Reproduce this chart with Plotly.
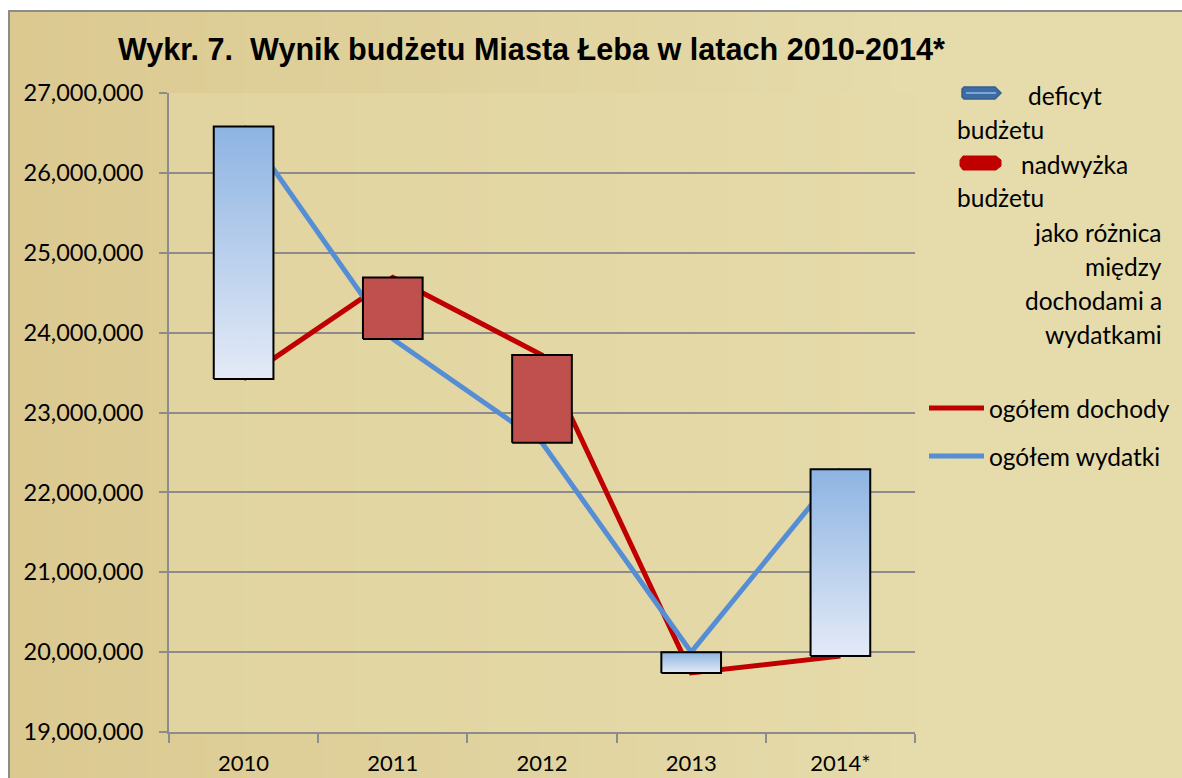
import plotly.graph_objects as go

years = ["2010", "2011", "2012", "2013", "2014*"]
dochody = [23420000, 24690000, 23720000, 19740000, 19950000]
wydatki = [26580000, 23920000, 22620000, 20000000, 22290000]
y_ticks = [19000000, 20000000, 21000000, 22000000, 23000000, 24000000, 25000000, 26000000, 27000000]

W, H = 1182, 778
L, R, T, B = 169, W - 915, 93, H - 732
PW, PH = W - L - R, H - T - B
def px(x): return (x - L) / PW
def py(y): return (H - B - y) / PH

def lerp(c1, c2, t):
    a = [int(c1[i:i+2], 16) for i in (1, 3, 5)]
    b = [int(c2[i:i+2], 16) for i in (1, 3, 5)]
    return "#%02x%02x%02x" % tuple(round(a[k] + (b[k] - a[k]) * t) for k in range(3))

fig = go.Figure()
xs = list(range(len(years)))
half = 0.2

# lines
fig.add_trace(go.Scatter(x=xs, y=dochody, mode="lines", line=dict(color="#C00000", width=5),
                         name="ogółem dochody", showlegend=False, hoverinfo="skip"))
fig.add_trace(go.Scatter(x=xs, y=wydatki, mode="lines", line=dict(color="#558ED5", width=5),
                         name="ogółem wydatki", showlegend=False, hoverinfo="skip"))

# up/down bars
for i, (d, w) in enumerate(zip(dochody, wydatki)):
    lo, hi = min(d, w), max(d, w)
    bx = [i - half, i + half, i + half, i - half, i - half]
    by = [lo, lo, hi, hi, lo]
    if w > d:
        fig.add_trace(go.Scatter(x=bx, y=by, mode="lines", fill="toself",
                                 line=dict(color="black", width=2),
                                 fillgradient=dict(type="vertical",
                                                   colorscale=[[0, "#E4EAF7"], [1, "#8DB4E2"]]),
                                 showlegend=False, hoverinfo="skip"))
    else:
        fig.add_trace(go.Scatter(x=bx, y=by, mode="lines", fill="toself",
                                 line=dict(color="black", width=2), fillcolor="#C0504D",
                                 showlegend=False, hoverinfo="skip"))

shapes = []
# chart area background gradient
N = 60
x0p, x1p = 9, W + 5
for k in range(N):
    t = k / (N - 1)
    c = lerp("#DBC990", "#E5DBAB", min(1, t * 1.3))
    shapes.append(dict(type="rect", xref="paper", yref="paper", layer="below",
                       x0=px(x0p + (x1p - x0p) * k / N), x1=px(x0p + (x1p - x0p) * (k + 1) / N + 1),
                       y0=py(H + 5), y1=py(11), line=dict(width=0), fillcolor=c))
# plot area gradient
M = 40
for k in range(M):
    t = k / (M - 1)
    c = lerp("#E1D4A0", "#E5DAA9", t)
    shapes.append(dict(type="rect", xref="x domain", yref="y domain", layer="below",
                       x0=k / M, x1=(k + 1) / M + 0.002, y0=0, y1=1, line=dict(width=0), fillcolor=c))
# chart border
shapes.append(dict(type="rect", xref="paper", yref="paper", layer="below",
                   x0=px(9), x1=px(W + 10), y0=py(H + 10), y1=py(11), line=dict(color="#8C8C8C", width=2),
                   fillcolor="rgba(0,0,0,0)"))

# legend symbols
def path(points):
    return "M " + " L ".join("%f %f" % (px(a), py(b)) for a, b in points) + " Z"
shapes.append(dict(type="path", xref="paper", yref="paper",
                   path=path([(964, 87), (995, 87), (1001, 93), (995, 99), (964, 99), (962, 97), (962, 89)]),
                   fillcolor="#3D6BA3", line=dict(color="#35608F", width=1.5)))
shapes.append(dict(type="line", xref="paper", yref="paper", x0=px(966), x1=px(996), y0=py(93), y1=py(93),
                   line=dict(color="#7DA5D9", width=2)))
shapes.append(dict(type="path", xref="paper", yref="paper",
                   path=path([(963, 156), (996, 156), (1001, 160), (1001, 166), (996, 170), (963, 170), (960, 166), (960, 160)]),
                   fillcolor="#C00000", line=dict(color="#C00000", width=1)))
shapes.append(dict(type="line", xref="paper", yref="paper", x0=px(929), x1=px(984), y0=py(408), y1=py(408),
                   line=dict(color="#C00000", width=5)))
shapes.append(dict(type="line", xref="paper", yref="paper", x0=px(929), x1=px(984), y0=py(456), y1=py(456),
                   line=dict(color="#558ED5", width=5)))

TF = dict(family="Lato, Carlito, sans-serif", size=23.5, color="black")
XF = dict(family="Lato, Carlito, sans-serif", size=22, color="black")
LF = dict(family="Lato, Carlito, sans-serif", size=24.5, color="black")
ann = []
def txt(s, x, y, anchor="left"):
    ann.append(dict(text=s, xref="paper", yref="paper", x=px(x), y=py(y), xanchor=anchor,
                    yanchor="middle", showarrow=False, font=LF))
txt("deficyt", 1026, 95)
txt("budżetu", 955, 129)
txt("nadwyżka", 1019, 164)
txt("budżetu", 955, 197)
txt("jako różnica", 1164, 232, "right")
txt("między", 1164, 266, "right")
txt("dochodami a", 1164, 300, "right")
txt("wydatkami", 1164, 334, "right")
txt("ogółem dochody", 987, 408)
txt("ogółem wydatki", 987, 456)

ann.append(dict(text="<b>Wykr. 7.  Wynik budżetu Miasta Łeba w latach 2010-2014*</b>",
                xref="paper", yref="paper", x=px(531), y=py(50), xanchor="center", yanchor="middle",
                showarrow=False,
                font=dict(family="Liberation Sans Narrow, Liberation Sans, Arial, sans-serif",
                          size=30.6, color="black")))

fig.update_layout(
    width=W, height=H,
    margin=dict(l=L, r=R, t=T, b=B, pad=0, autoexpand=False),
    paper_bgcolor="white", plot_bgcolor="rgba(0,0,0,0)",
    shapes=shapes, annotations=ann, showlegend=False,
)
fig.update_xaxes(range=[-0.5, len(years) - 0.5], tickvals=xs, ticktext=years, ticks="",
                 showgrid=False, zeroline=False, showline=True, linecolor="#8C8C8C", linewidth=2,
                 tickfont=XF, ticklabelstandoff=11, automargin=False,
                 minor=dict(tick0=-0.5, dtick=1, ticks="outside", ticklen=9, tickcolor="#8C8C8C",
                            tickwidth=2, showgrid=False))
fig.update_yaxes(range=[19000000, 27000000], tickvals=y_ticks, tickformat=",d",
                 ticks="outside", ticklen=8, tickcolor="#8C8C8C", tickwidth=2, ticklabelstandoff=11,
                 showgrid=True, gridcolor="#8C8C8C", gridwidth=2, zeroline=False, automargin=False,
                 showline=True, linecolor="#8C8C8C", linewidth=2, tickfont=TF)

fig.write_html("out.html", config={"displayModeBar": False},
               post_script="document.body.style.margin='0px';")
